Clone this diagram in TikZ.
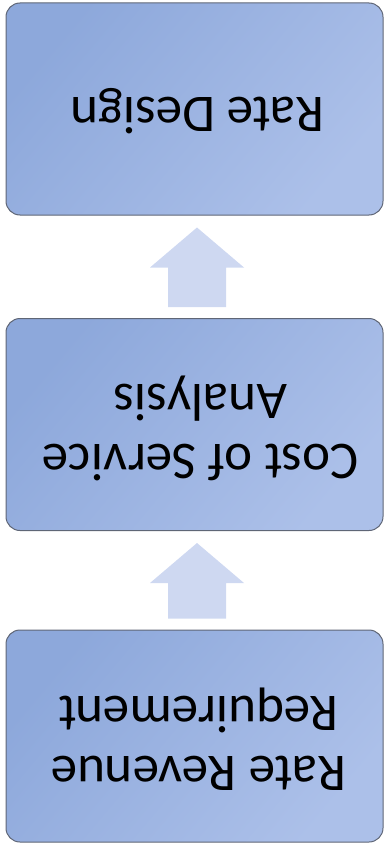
\documentclass[tikz,border=0pt]{standalone}
\usepackage{fontspec}
\setmainfont{Carlito}
\usetikzlibrary{calc}
\definecolor{boxA}{RGB}{141,168,219}
\definecolor{boxB}{RGB}{172,192,233}
\definecolor{boxEdge}{RGB}{95,102,118}
\definecolor{arrowFill}{RGB}{206,216,241}
\tikzset{
  box/.style={draw=boxEdge, line width=1pt, rounded corners=14pt,
    top color=boxA, bottom color=boxB, shading angle=50,
    minimum width=377pt, minimum height=212pt, inner sep=0pt},
  boxtext/.style={rotate=180, align=center, font=\fontsize{53}{60}\selectfont, text=black},
  blockarrow/.style={fill=arrowFill, draw=none}
}
\begin{document}
\begin{tikzpicture}[x=1pt,y=1pt]
\useasboundingbox (0,0) rectangle (384,-848);
\node[box] (b1) at (194.5,-109) {};
\node[box] (b2) at (194.5,-424.5) {};
\node[box] (b3) at (194.5,-736) {};
\node[boxtext] (t1) at ($(b1.center)+(3,-2)$) {Rate Design};
\node[boxtext] (t2) at ($(b2.center)+(6,-4)$) {Cost of Service\\Analysis};
\node[boxtext] (t3) at ($(b3.center)+(4,-3)$) {Rate Revenue\\Requirement};
% block arrows between boxes (pointing up)
\coordinate (a1tip) at ($(b1.south)+(2.5,-12)$);
\coordinate (a1bot) at ($(b2.north)+(2.5,11)$);
\fill[blockarrow] (a1tip) -- ($(a1tip)+(47,-40)$) -- ($(a1tip)+(29,-40)$) -- ($(a1bot)+(29,0)$)
  -- ($(a1bot)+(-29,0)$) -- ($(a1tip)+(-29,-40)$) -- ($(a1tip)+(-47,-40)$) -- cycle;
\coordinate (a2tip) at ($(b2.south)+(2.5,-12)$);
\coordinate (a2bot) at ($(b3.north)+(2.5,11)$);
\fill[blockarrow] (a2tip) -- ($(a2tip)+(47,-40)$) -- ($(a2tip)+(29,-40)$) -- ($(a2bot)+(29,0)$)
  -- ($(a2bot)+(-29,0)$) -- ($(a2tip)+(-29,-40)$) -- ($(a2tip)+(-47,-40)$) -- cycle;
\end{tikzpicture}
\end{document}
